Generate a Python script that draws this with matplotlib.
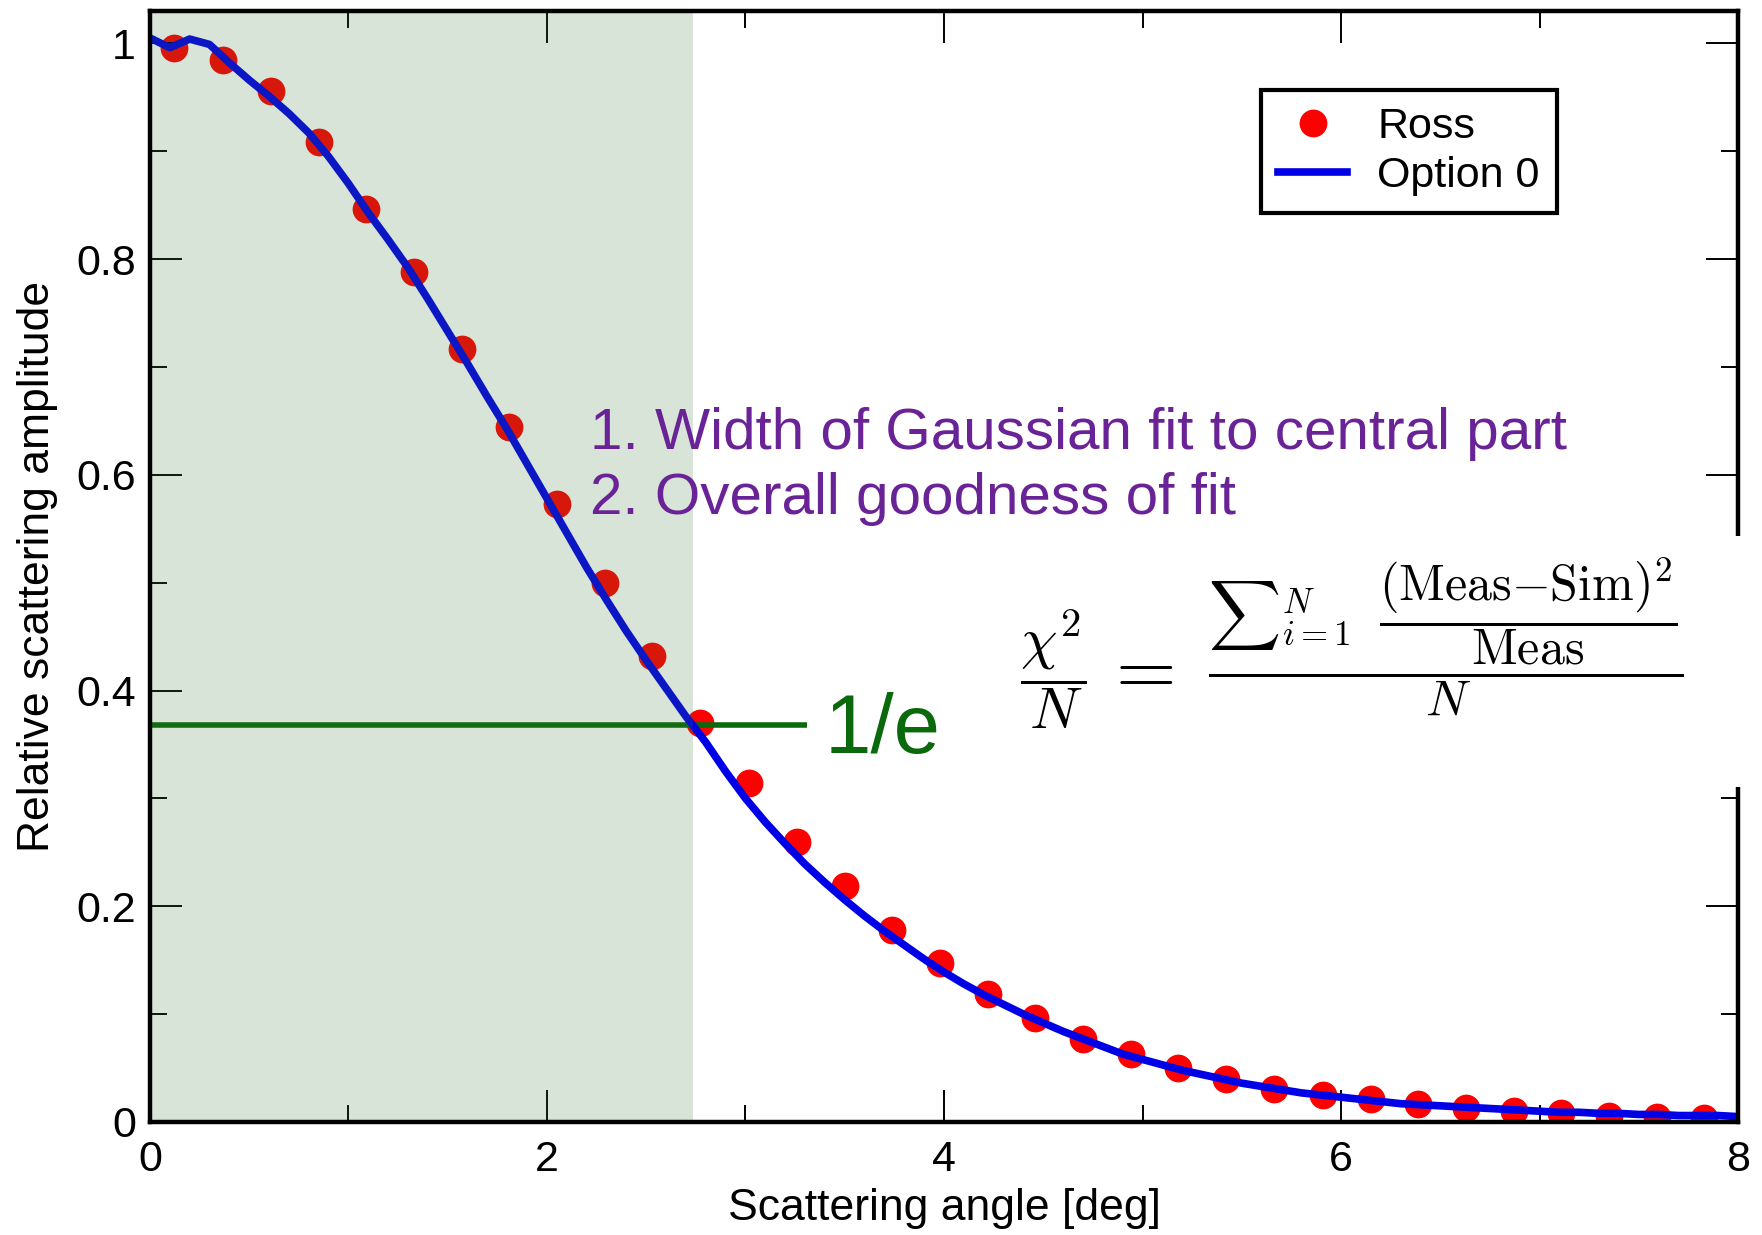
"""Relative scattering amplitude vs angle: Ross measurement against the
Option 0 simulation, with the 1/e core width marked and the two fit
criteria written on the plot.
"""
import matplotlib
matplotlib.use("Agg")
import matplotlib.pyplot as plt
from matplotlib.patches import Rectangle
from matplotlib.ticker import MultipleLocator, FuncFormatter

# Ross measurement (red dots)
ross_angle = [0.12, 0.37, 0.61, 0.85, 1.09, 1.33, 1.57, 1.81, 2.05, 2.29,
              2.53, 2.77, 3.02, 3.26, 3.50, 3.74, 3.98, 4.22, 4.46, 4.70,
              4.94, 5.18, 5.42, 5.66, 5.91, 6.15, 6.39, 6.63, 6.87, 7.11,
              7.35, 7.59, 7.83]
ross_amp = [0.996, 0.985, 0.956, 0.909, 0.846, 0.788, 0.717, 0.644, 0.573, 0.500,
            0.432, 0.370, 0.314, 0.260, 0.219, 0.178, 0.147, 0.119, 0.096, 0.077,
            0.063, 0.050, 0.040, 0.031, 0.025, 0.021, 0.017, 0.013, 0.010, 0.008,
            0.006, 0.005, 0.004]

# Option 0 simulation (blue line), read every 0.1 deg
sim_angle = [round(0.1 * i, 1) for i in range(81)]
sim_amp = [1.005, 0.996, 1.004, 0.999, 0.982, 0.966, 0.951, 0.935, 0.917, 0.895,
           0.870, 0.843, 0.818, 0.792, 0.763, 0.733, 0.703, 0.672, 0.642, 0.610,
           0.578, 0.546, 0.514, 0.484, 0.455, 0.428, 0.402, 0.376, 0.352, 0.325,
           0.300, 0.278, 0.258, 0.239, 0.222, 0.206, 0.191, 0.177, 0.164, 0.151,
           0.139, 0.128, 0.118, 0.109, 0.100, 0.092, 0.084, 0.077, 0.070, 0.063,
           0.058, 0.053, 0.048, 0.044, 0.040, 0.036, 0.033, 0.030, 0.027, 0.025,
           0.023, 0.021, 0.019, 0.017, 0.016, 0.015, 0.014, 0.013, 0.012, 0.011,
           0.010, 0.009, 0.009, 0.008, 0.008, 0.007, 0.007, 0.006, 0.006, 0.006,
           0.005]

INV_E = 0.3679          # 1/e level
CORE_EDGE = 2.735       # angle where the simulation crosses 1/e
INV_E_LINE_END = 3.31

PURPLE = "#6A2396"
GREEN = "#0A690A"
W, H = 1762, 1235


def fpos(x, y):
    """pixel position (from top-left) -> figure fraction"""
    return x / W, (H - y) / H


plt.rcParams.update({
    "font.family": ["Liberation Sans", "DejaVu Sans"],
    "mathtext.fontset": "cm",
    "font.size": 31,
    "axes.linewidth": 3.2,
    "figure.facecolor": "white",
})

fig = plt.figure(figsize=(W / 100, H / 100), dpi=100)
ax = fig.add_axes([0.0851, 0.0915, 0.9013, 0.8996])

ross, = ax.plot(ross_angle, ross_amp, "o", color="#FF0000", ms=20, mec="none",
                label="Ross", zorder=1.4)
ax.hlines(INV_E, 0, INV_E_LINE_END, color=GREEN, lw=4, zorder=1.5)
sim, = ax.plot(sim_angle, sim_amp, color="#0000E6", lw=5.5, label="Option 0",
               zorder=1.6)
# translucent overlay of the central (Gaussian) part
ax.axvspan(0, CORE_EDGE, color=(60 / 255, 120 / 255, 60 / 255), alpha=0.2,
           lw=0, zorder=1.8)

ax.set_xlim(0, 8)
ax.set_ylim(0, 1.03)
ax.xaxis.set_major_locator(MultipleLocator(2))
ax.xaxis.set_minor_locator(MultipleLocator(1))
ax.yaxis.set_major_locator(MultipleLocator(0.2))
ax.yaxis.set_minor_locator(MultipleLocator(0.1))
fmt = FuncFormatter(lambda v, _: f"{v:g}")
ax.xaxis.set_major_formatter(fmt)
ax.yaxis.set_major_formatter(fmt)
ax.tick_params(which="both", direction="in", top=True, right=True,
               width=1.4, color="black", labelsize=31)
ax.tick_params(which="major", length=23)
ax.tick_params(which="minor", length=12)
ax.tick_params(axis="x", pad=13)
ax.tick_params(axis="y", pad=10)

ax.set_xlabel("Scattering angle [deg]", fontsize=32, labelpad=6)
ax.set_ylabel("Relative scattering amplitude", fontsize=32, labelpad=13)

leg = ax.legend(handles=[ross, sim], loc="upper right",
                bbox_to_anchor=(0.886, 0.929), borderaxespad=0, fontsize=31,
                numpoints=1, handlelength=1.6, handletextpad=0.7,
                labelspacing=0.2, borderpad=0.4, fancybox=False,
                framealpha=1)
leg.get_frame().set_edgecolor("black")
leg.get_frame().set_linewidth(3)

ax.text(2.215, 0.624, "1. Width of Gaussian fit to central part",
        color=PURPLE, fontsize=42, va="baseline", zorder=3)
ax.text(2.215, 0.564, "2. Overall goodness of fit",
        color=PURPLE, fontsize=42, va="baseline", zorder=3)
ax.text(3.40, 0.342, "1/e", color=GREEN, fontsize=60, va="baseline", zorder=3)

# the equation sits on a white panel that hides part of the right spine
x0, y0 = fpos(985, 787)
x1, y1 = fpos(1750, 536)
fig.add_artist(Rectangle((x0, y0), x1 - x0, y1 - y0, transform=fig.transFigure,
                         facecolor="white", edgecolor="none", zorder=4))
fig.text(*fpos(1020, 669), r"$\dfrac{\chi^2}{N}$", fontsize=42,
         ha="left", va="center", zorder=5)
fig.text(*fpos(1138, 672), r"$=$", fontsize=56, ha="center", va="center",
         zorder=5)
fig.text(*fpos(1208, 637),
         r"$\dfrac{{\sum}_{i=1}^{N}\;\;"
         r"\dfrac{(\mathrm{Meas}{-}\mathrm{Sim})^2}{\mathrm{Meas}}}{N}$",
         fontsize=36, ha="left", va="center", zorder=5)

fig.savefig("out.png", dpi=100)
